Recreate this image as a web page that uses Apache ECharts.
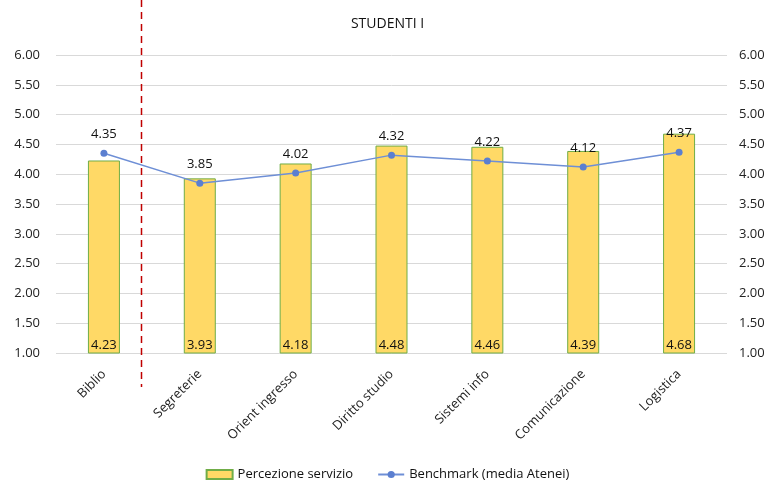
<!DOCTYPE html>
<html><head><meta charset="utf-8">
<script src="https://cdn.jsdelivr.net/npm/echarts@6/dist/echarts.min.js"></script>
<style>html,body{margin:0;padding:0;background:#fff}#c{width:775px;height:484px}</style>
</head><body><div id="c"></div>
<script>
const categories = ['Biblio','Segreterie','Orient ingresso','Diritto studio','Sistemi info','Comunicazione','Logistica'];
const percezione = [4.23,3.93,4.18,4.48,4.46,4.39,4.68];
const benchmark = [4.35,3.85,4.02,4.32,4.22,4.12,4.37];
const FONT = 'Open Sans';
const chart = echarts.init(document.getElementById('c'));
const yAx = (pos) => ({
  type:'value', position:pos, min:1, max:6, interval:0.5,
  axisLabel:{formatter:v=>v.toFixed(2), color:'#222', fontFamily:FONT, fontSize:13, margin:pos==='left'?16:12},
  axisLine:{show:false}, axisTick:{show:false},
  splitLine:{show:pos==='left', lineStyle:{color:'#d9d9d9'}}
});
chart.setOption({
  animation:false,
  textStyle:{fontFamily:FONT},
  title:{text:'STUDENTI I', left:'center', top:12, textStyle:{fontFamily:FONT, fontSize:14, fontWeight:'normal', color:'#111'}},
  grid:{left:56, right:48, top:55, bottom:131},
  legend:{bottom:-2, left:'center', itemGap:24, itemWidth:26, itemHeight:9, textStyle:{fontFamily:FONT, fontSize:13, color:'#111'},
    data:[{name:'Percezione servizio', icon:'rect'}, {name:'Benchmark (media Atenei)'}]},
  xAxis:{type:'category', data:categories,
    axisLabel:{rotate:45, color:'#222', fontFamily:FONT, fontSize:13, margin:19, interval:0},
    axisLine:{show:false}, axisTick:{show:false}},
  yAxis:[yAx('left'), yAx('right')],
  series:[
    {name:'Percezione servizio', type:'bar', data:percezione, barWidth:32,
      itemStyle:{color:'#FFD966', borderColor:'#70AD47', borderWidth:1},
      label:{show:true, position:'insideBottom', distance:2, formatter:p=>p.value.toFixed(2), color:'#111', fontFamily:FONT, fontSize:13}},
    {name:'Benchmark (media Atenei)', type:'line', data:benchmark, symbol:'circle', symbolSize:7,
      itemStyle:{color:'#5B7FD0'}, lineStyle:{color:'#6E8FD6', width:1.5},
      label:{show:true, position:'top', distance:9, formatter:p=>p.value.toFixed(2), color:'#111', fontFamily:FONT, fontSize:13}}
  ]
});
const p0 = chart.convertToPixel({xAxisIndex:0}, categories[0]);
const p1 = chart.convertToPixel({xAxisIndex:0}, categories[1]);
const xs = Math.round(p0 + (p1 - p0) * 0.39) + 0.5;
chart.setOption({graphic:[{type:'line', shape:{x1:xs, y1:0, x2:xs, y2:387}, style:{stroke:'#C00000', lineWidth:1.5, lineDash:[7,5]}, z:10}]});
</script></body></html>
